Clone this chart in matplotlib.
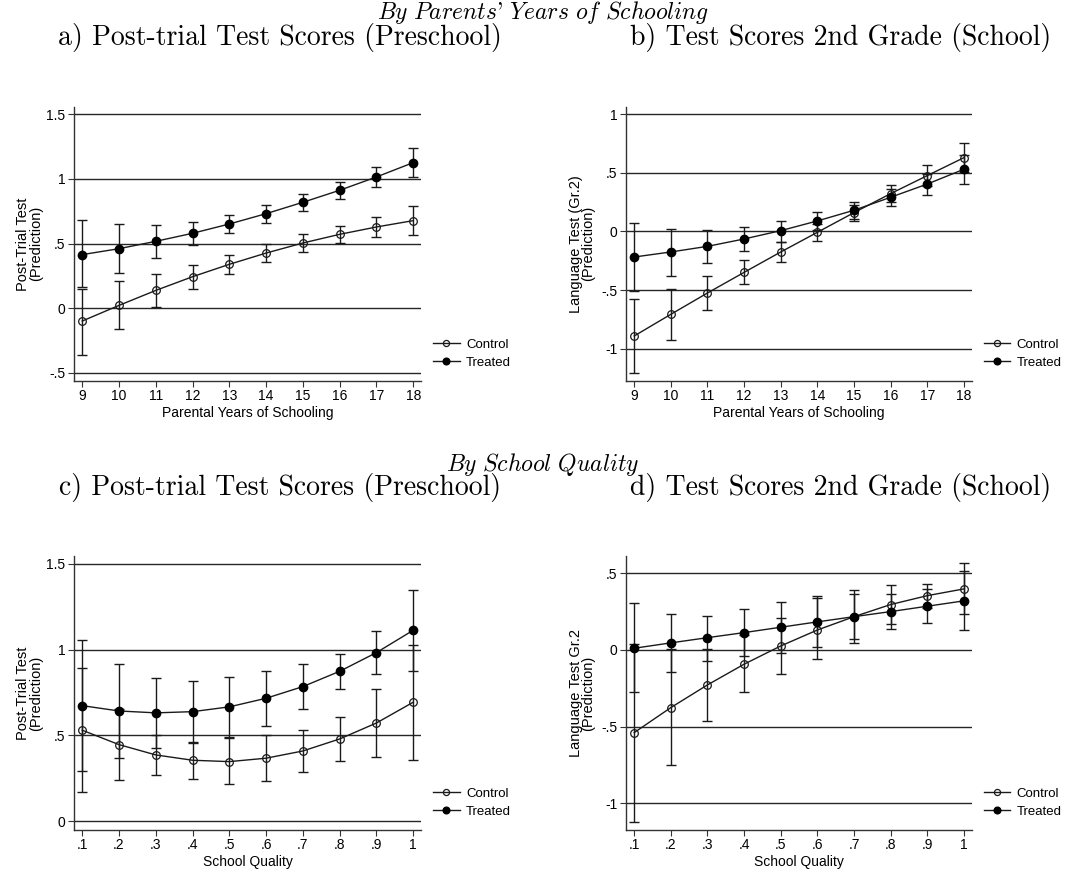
import numpy as np
import matplotlib
matplotlib.use("Agg")
import matplotlib.pyplot as plt
from matplotlib.ticker import FuncFormatter

plt.rcParams['font.family'] = ['Liberation Sans', 'DejaVu Sans']
plt.rcParams['mathtext.fontset'] = 'cm'

# x values
years = [9, 10, 11, 12, 13, 14, 15, 16, 17, 18]
quality = [0.1, 0.2, 0.3, 0.4, 0.5, 0.6, 0.7, 0.8, 0.9, 1.0]

# a) post-trial test by parental schooling
a_ctrl = [-0.100, 0.021, 0.137, 0.243, 0.339, 0.426, 0.504, 0.571, 0.628, 0.677]
a_ctrl_lo = [-0.366, -0.165, 0.006, 0.150, 0.264, 0.354, 0.432, 0.506, 0.553, 0.566]
a_ctrl_hi = [0.150, 0.212, 0.266, 0.334, 0.414, 0.496, 0.571, 0.633, 0.703, 0.788]
a_trt = [0.414, 0.460, 0.517, 0.579, 0.651, 0.731, 0.819, 0.912, 1.015, 1.126]
a_trt_lo = [0.163, 0.274, 0.385, 0.488, 0.579, 0.661, 0.749, 0.847, 0.940, 1.015]
a_trt_hi = [0.679, 0.648, 0.643, 0.669, 0.723, 0.795, 0.881, 0.974, 1.090, 1.237]

# b) language test 2nd grade by parental schooling
b_ctrl = [-0.892, -0.707, -0.525, -0.349, -0.175, -0.007, 0.161, 0.323, 0.477, 0.630]
b_ctrl_lo = [-1.205, -0.926, -0.673, -0.451, -0.260, -0.081, 0.090, 0.255, 0.391, 0.505]
b_ctrl_hi = [-0.579, -0.488, -0.377, -0.246, -0.092, 0.067, 0.229, 0.394, 0.565, 0.755]
b_trt = [-0.218, -0.175, -0.127, -0.064, 0.007, 0.090, 0.181, 0.292, 0.405, 0.531]
b_trt_lo = [-0.505, -0.383, -0.266, -0.164, -0.087, 0.013, 0.107, 0.218, 0.314, 0.403]
b_trt_hi = [0.073, 0.024, 0.013, 0.036, 0.087, 0.164, 0.255, 0.366, 0.494, 0.653]

# c) post-trial test by school quality
c_ctrl = [0.530, 0.446, 0.386, 0.355, 0.347, 0.367, 0.409, 0.479, 0.572, 0.693]
c_ctrl_lo = [0.170, 0.241, 0.268, 0.246, 0.219, 0.233, 0.287, 0.351, 0.376, 0.359]
c_ctrl_hi = [0.890, 0.651, 0.504, 0.464, 0.483, 0.501, 0.534, 0.605, 0.772, 1.028]
c_trt = [0.673, 0.642, 0.631, 0.638, 0.666, 0.716, 0.784, 0.873, 0.982, 1.112]
c_trt_lo = [0.293, 0.370, 0.427, 0.454, 0.493, 0.553, 0.652, 0.772, 0.858, 0.877]
c_trt_hi = [1.054, 0.914, 0.832, 0.819, 0.842, 0.877, 0.918, 0.974, 1.108, 1.347]

# d) language test 2nd grade by school quality
d_ctrl = [-0.539, -0.376, -0.228, -0.093, 0.026, 0.130, 0.217, 0.296, 0.354, 0.398]
d_ctrl_lo = [-1.120, -0.752, -0.465, -0.274, -0.157, -0.061, 0.042, 0.170, 0.274, 0.233]
d_ctrl_hi = [0.041, 0.004, 0.007, 0.098, 0.209, 0.339, 0.392, 0.422, 0.433, 0.565]
d_trt = [0.011, 0.046, 0.080, 0.113, 0.148, 0.183, 0.217, 0.250, 0.285, 0.320]
d_trt_lo = [-0.276, -0.141, -0.070, -0.041, -0.020, 0.017, 0.072, 0.139, 0.176, 0.130]
d_trt_hi = [0.304, 0.233, 0.224, 0.267, 0.315, 0.350, 0.362, 0.363, 0.398, 0.515]

quality_labels = ['.1', '.2', '.3', '.4', '.5', '.6', '.7', '.8', '.9', '1']


def stata_fmt(v, pos):
    s = ('%g' % round(v, 3))
    s = s.replace('0.', '.')
    return s


def panel(ax, x, ctrl, ctrl_lo, ctrl_hi, trt, trt_lo, trt_hi, yticks, ylim, xlim,
          ylabel, xlabel, label_x):
    ax.set_xlim(xlim)
    ax.set_ylim(ylim)
    ax.set_yticks(yticks)
    ax.yaxis.set_major_formatter(FuncFormatter(stata_fmt))
    ax.yaxis.grid(True, color='0.15', lw=1.0)
    ax.set_axisbelow(True)
    for sp in ['top', 'right']:
        ax.spines[sp].set_visible(False)
    for sp in ['left', 'bottom']:
        ax.spines[sp].set_color('0.2')
        ax.spines[sp].set_linewidth(1.0)
    ax.tick_params(direction='out', length=4, width=0.8, color='0.2',
                   labelsize=10, pad=2)

    x = np.array(x)
    ctrl = np.array(ctrl)
    trt = np.array(trt)
    err_c = [ctrl - np.array(ctrl_lo), np.array(ctrl_hi) - ctrl]
    err_t = [trt - np.array(trt_lo), np.array(trt_hi) - trt]
    ax.errorbar(x, ctrl, yerr=err_c, fmt='none', ecolor='0.1', elinewidth=1.0,
                capsize=3.5, capthick=1.0, zorder=3)
    ax.errorbar(x, trt, yerr=err_t, fmt='none', ecolor='0.1', elinewidth=1.0,
                capsize=3.5, capthick=1.0, zorder=3)
    ax.plot(x, ctrl, color='0.1', lw=1.0, marker='o', ms=5.5, mfc='none',
            mec='0.1', mew=0.9, label='Control', zorder=4)
    ax.plot(x, trt, color='0.1', lw=1.0, marker='o', ms=6, mfc='black',
            mec='black', label='Treated', zorder=4)

    ax.set_ylabel(ylabel, fontsize=10.5, linespacing=0.9)
    ax.yaxis.set_label_coords(label_x, 0.5)
    ax.set_xlabel(xlabel, fontsize=10, labelpad=2)

    h = ax.get_legend_handles_labels()
    ax.legend(h[0], h[1], loc='lower left', bbox_to_anchor=(1.02, 0.025),
              frameon=False, fontsize=9.5, handlelength=2.0,
              handletextpad=0.5, labelspacing=0.45, borderaxespad=0,
              markerscale=0.8)
    return ax


fig = plt.figure(figsize=(10.86, 8.73), dpi=100)

ax_a = fig.add_axes([0.0681, 0.5636, 0.3195, 0.3142])
panel(ax_a, years, a_ctrl, a_ctrl_lo, a_ctrl_hi, a_trt, a_trt_lo, a_trt_hi,
      [-0.5, 0, 0.5, 1, 1.5], (-0.564, 1.559), (8.775, 18.21),
      'Post-Trial Test\n(Prediction)', 'Parental Years of Schooling', -0.09)
ax_a.set_xticks(years)

ax_b = fig.add_axes([0.5764, 0.5636, 0.3183, 0.3142])
panel(ax_b, years, b_ctrl, b_ctrl_lo, b_ctrl_hi, b_trt, b_trt_lo, b_trt_hi,
      [-1, -0.5, 0, 0.5, 1], (-1.276, 1.065), (8.775, 18.21),
      'Language Test (Gr.2)\n(Prediction)', 'Parental Years of Schooling', -0.088)
ax_b.set_xticks(years)

ax_c = fig.add_axes([0.0681, 0.0493, 0.3195, 0.3139])
panel(ax_c, quality, c_ctrl, c_ctrl_lo, c_ctrl_hi, c_trt, c_trt_lo, c_trt_hi,
      [0, 0.5, 1, 1.5], (-0.051, 1.545), (0.0775, 1.021),
      'Post-Trial Test\n(Prediction)', 'School Quality', -0.09)
ax_c.set_xticks(quality)
ax_c.set_xticklabels(quality_labels)

ax_d = fig.add_axes([0.5764, 0.0493, 0.3183, 0.3139])
panel(ax_d, quality, d_ctrl, d_ctrl_lo, d_ctrl_hi, d_trt, d_trt_lo, d_trt_hi,
      [-1, -0.5, 0, 0.5], (-1.174, 0.613), (0.0775, 1.021),
      'Language Test Gr.2\n(Prediction)', 'School Quality', -0.088)
ax_d.set_xticks(quality)
ax_d.set_xticklabels(quality_labels)

# titles in Computer Modern
tkw = dict(family='cmr10', fontsize=20, ha='center', va='center')
ikw = dict(family='cmr10', fontsize=17, ha='center', va='center')
fig.text(0.5, 1 - 13 / 873,
         r"$\mathit{By\ Parents}$'$\mathit{\ Years\ of\ Schooling}$", **ikw)
fig.text(280 / 1086, 1 - 37 / 873, 'a) Post-trial Test Scores (Preschool)', **tkw)
fig.text(841 / 1086, 1 - 37 / 873, 'b) Test Scores 2nd Grade (School)', **tkw)
fig.text(0.5, 1 - 464 / 873, r"$\mathit{By\ School\ Quality}$", **ikw)
fig.text(280 / 1086, 1 - 488 / 873, 'c) Post-trial Test Scores (Preschool)', **tkw)
fig.text(841 / 1086, 1 - 488 / 873, 'd) Test Scores 2nd Grade (School)', **tkw)

fig.savefig('out.png', dpi=100)
plt.close()
